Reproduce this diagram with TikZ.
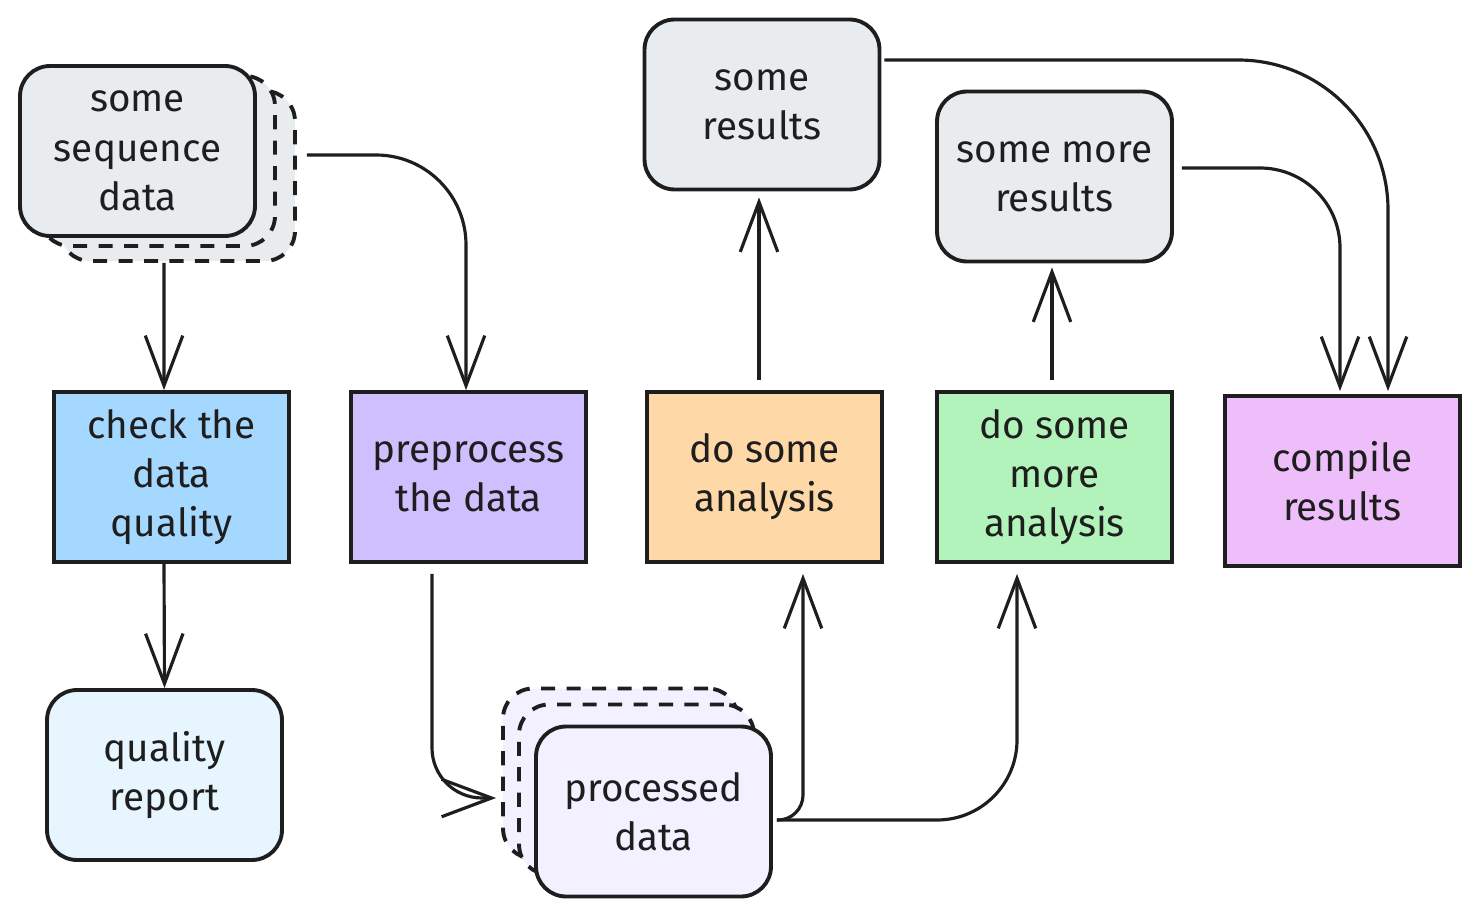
\documentclass[tikz,border=0pt]{standalone}
\usepackage{fontspec}
\setmainfont{Fira Sans}
\usetikzlibrary{positioning}
\usetikzlibrary{arrows.meta}
\usetikzlibrary{shadows}

\definecolor{ink}{HTML}{1E1E1E}
\definecolor{greyfill}{HTML}{E9ECEF}
\definecolor{bluefill}{HTML}{A5D8FF}
\definecolor{paleblue}{HTML}{E7F5FF}
\definecolor{violetfill}{HTML}{D0BFFF}
\definecolor{palelilac}{HTML}{F3F0FF}
\definecolor{orangefill}{HTML}{FFD8A8}
\definecolor{greenfill}{HTML}{B2F2BB}
\definecolor{pinkfill}{HTML}{EEBEFA}

\begin{document}
\begin{tikzpicture}[x=0.02cm, y=0.02cm,
    box/.style={draw=ink, line width=2.2pt, minimum width=4.7cm, minimum height=3.4cm,
      align=center, text=ink, font=\fontsize{22}{28}\selectfont},
    soft/.style={box, rounded corners=0.6cm},
    ghost/.style={draw=ink, line width=2.2pt, dash pattern=on 8pt off 6.5pt},
    flow/.style={draw=ink, line width=1.8pt, -{Straight Barb[length=1cm, width=0.75cm]}}
  ]
  \useasboundingbox (0,0) rectangle (1479,917);

  % input and its checks
  \node[soft, fill=greyfill,
    copy shadow={shadow xshift=0.8cm, shadow yshift=-0.5cm, ghost, fill=greyfill},
    copy shadow={shadow xshift=0.4cm, shadow yshift=-0.2cm, ghost, fill=greyfill}]
    (seq) at (137.5,766) {some\\sequence\\data};
  \node[box, fill=bluefill] (check) at (171.5,440) {check the\\data\\quality};
  \node[soft, fill=paleblue] (report) at (164.5,142) {quality\\report};

  % processing
  \node[box, fill=violetfill] (prep) at (468.5,440) {preprocess\\the data};
  \node[soft, fill=palelilac,
    copy shadow={shadow xshift=-0.66cm, shadow yshift=0.76cm, ghost, fill=palelilac},
    copy shadow={shadow xshift=-0.34cm, shadow yshift=0.44cm, ghost, fill=palelilac}]
    (proc) at (653.5,105.5) {processed\\data};

  % analyses
  \node[box, fill=orangefill] (ana) at (764.5,440) {do some\\analysis};
  \node[soft, fill=greyfill] (res) at (762,812.5) {some\\results};
  \node[box, fill=greenfill] (mana) at (1054.5,440) {do some\\more\\analysis};
  \node[soft, fill=greyfill] (mres) at (1054.5,740.5) {some more\\results};
  \node[box, fill=pinkfill] (comp) at (1342.5,436) {compile\\results};

  \draw[flow] ([shift={(26.5,-25)}]seq.south) -- ([shift={(-7.5,0)}]check.north);
  \draw[flow, rounded corners=1.8cm] ([shift={(50,-4)}]seq.east) -| ([shift={(-2.5,0)}]prep.north);
  \draw[flow] ([shift={(-7.5,0)}]check.south) -- (report.north);
  \draw[flow, rounded corners=1cm] ([shift={(-36.5,-10)}]prep.south) |- ([shift={(-38,13.5)}]proc.west);
  \draw[flow, rounded corners=0.5cm] ([shift={(4,-8.5)}]proc.east) -| ([shift={(38.5,-10)}]ana.south);
  \draw[flow, rounded corners=1.6cm] ([shift={(4,-8.5)}]proc.east) -| ([shift={(-37.5,-10)}]mana.south);
  \draw[flow] ([shift={(-5.5,10)}]ana.north) -- ([shift={(-3,-6)}]res.south);
  \draw[flow] ([shift={(-2.5,10)}]mana.north) -- ([shift={(-2.5,-4)}]mres.south);
  \draw[flow, rounded corners=1.6cm] ([shift={(8,8.5)}]mres.east) -| ([shift={(-2.5,3)}]comp.north);
  \draw[flow, rounded corners=3cm] ([shift={(3,44.5)}]res.east) -| ([shift={(45.5,3)}]comp.north);
\end{tikzpicture}
\end{document}
